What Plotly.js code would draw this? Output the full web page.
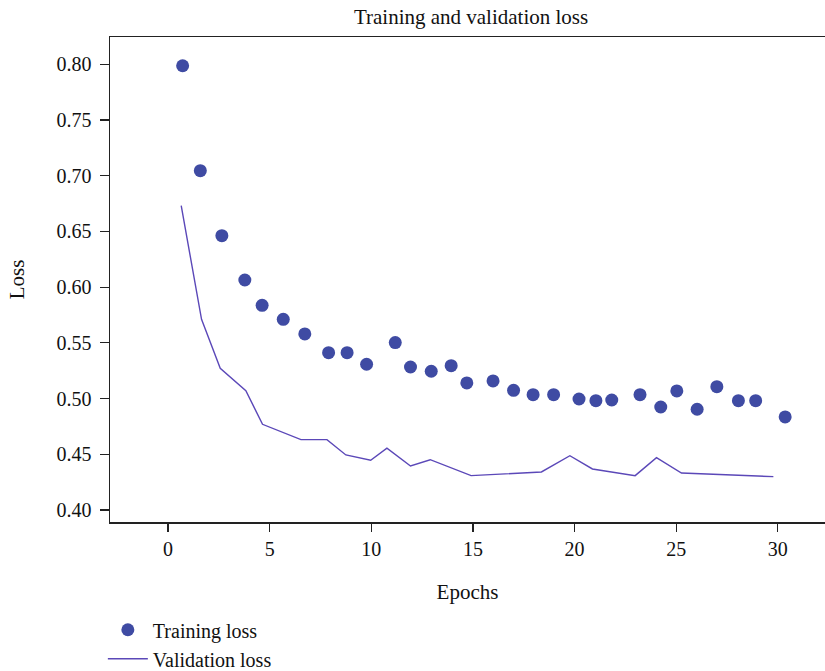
<!DOCTYPE html>
<html>
<head>
<meta charset="utf-8">
<script src="https://cdn.plot.ly/plotly-3.0.1.min.js"></script>
<style>html,body{margin:0;padding:0;background:#fff;}#chart{width:825px;height:671px;}</style>
</head>
<body>
<div id="chart"></div>
<script>
const trainEpochs = [0.72,1.59,2.65,3.78,4.63,5.67,6.73,7.90,8.81,9.77,11.18,11.93,12.95,13.93,14.70,15.99,17.00,17.96,18.97,20.22,21.05,21.83,23.22,24.24,25.03,26.03,27.00,28.06,28.91,30.36];
const trainLoss = [0.7987,0.7045,0.6462,0.6064,0.5837,0.5711,0.5580,0.5412,0.5412,0.5308,0.5502,0.5283,0.5245,0.5295,0.5140,0.5158,0.5074,0.5035,0.5035,0.4996,0.4981,0.4987,0.5035,0.4924,0.5068,0.4904,0.5107,0.4981,0.4981,0.4835];
const valEpochs = [0.65,1.65,2.57,3.83,4.65,6.54,7.82,8.75,9.97,10.77,11.93,12.90,14.91,18.37,19.77,20.88,22.98,24.03,25.26,29.78];
const valLoss = [0.6731,0.5711,0.5272,0.5071,0.4769,0.4631,0.4631,0.4494,0.4446,0.4554,0.4395,0.4451,0.4308,0.4341,0.4487,0.4368,0.4308,0.4469,0.4332,0.4299];
const xTicks = [0,5,10,15,20,25,30];
const yTicks = [0.40,0.45,0.50,0.55,0.60,0.65,0.70,0.75,0.80];

const FONT = 'Liberation Serif, Times New Roman, serif';
const traces = [
  {x: trainEpochs, y: trainLoss, type: 'scatter', mode: 'markers', name: 'Training loss',
   marker: {color: '#3f4ba3', size: 13, line: {width: 0}}},
  {x: valEpochs, y: valLoss, type: 'scatter', mode: 'lines', name: 'Validation loss',
   line: {color: '#5b48b8', width: 1.4}}
];
const layout = {
  width: 825, height: 671,
  margin: {l: 110, r: 0, t: 37, b: 149, autoexpand: false},
  paper_bgcolor: '#fff', plot_bgcolor: '#fff',
  font: {family: FONT, size: 20, color: '#111'},
  title: {text: 'Training and validation loss', font: {family: FONT, size: 21, color: '#111'},
          x: 0.505, xref: 'paper', xanchor: 'center', y: 0.975, yref: 'container', yanchor: 'middle'},
  xaxis: {range: [-2.853, 32.32], tickvals: xTicks, ticktext: xTicks.map(String),
          showgrid: false, zeroline: false, showline: true, linecolor: '#222', linewidth: 1.5, mirror: true,
          ticks: 'outside', ticklen: 8, tickcolor: '#222', tickwidth: 1.2, ticklabelstandoff: 0,
          tickfont: {family: FONT, size: 20, color: '#111'},
          title: {text: 'Epochs', font: {family: FONT, size: 21, color: '#111'}, standoff: 26}},
  yaxis: {range: [0.3892, 0.8245], tickvals: yTicks, ticktext: yTicks.map(v => v.toFixed(2)),
          showgrid: false, zeroline: false, showline: true, linecolor: '#222', linewidth: 1.5, mirror: true,
          ticks: 'outside', ticklen: 9, tickcolor: '#222', tickwidth: 1.2, ticklabelstandoff: 4,
          tickfont: {family: FONT, size: 20, color: '#111'},
          title: {text: 'Loss', font: {family: FONT, size: 21, color: '#111'}, standoff: 26}},
  showlegend: true,
  legend: {x: -0.01, xanchor: 'left', y: -0.182, yanchor: 'top', orientation: 'v',
           font: {family: FONT, size: 20, color: '#111'}, bgcolor: 'rgba(0,0,0,0)', itemwidth: 40,
           tracegroupgap: 0}
};
Plotly.newPlot('chart', traces, layout, {displayModeBar: false, staticPlot: true});
</script>
</body>
</html>
